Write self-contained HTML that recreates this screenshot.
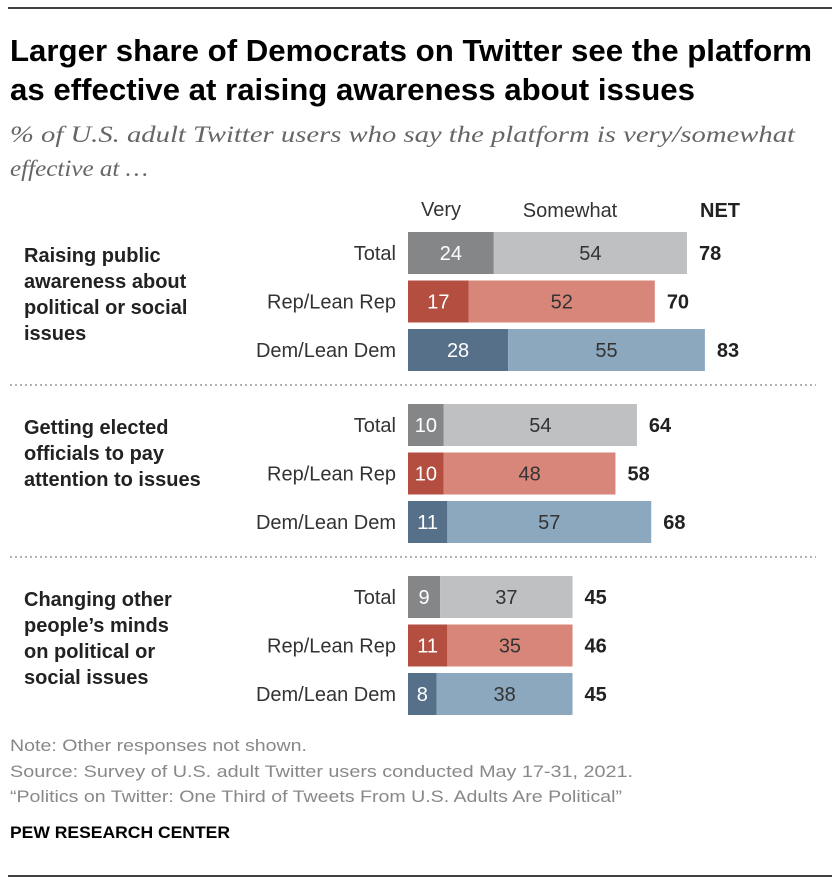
<!DOCTYPE html>
<html><head><meta charset="utf-8">
<style>
body{margin:0;background:#fff;}
svg{display:block;font-family:"Liberation Sans",sans-serif;}
</style></head><body>
<svg width="840" height="886" viewBox="0 0 840 886">
<line x1="8" y1="8" x2="832" y2="8" stroke="#000" stroke-width="1.5"/>
<text x="10" y="61" font-size="31" font-weight="bold" fill="#000" textLength="802" lengthAdjust="spacingAndGlyphs">Larger share of Democrats on Twitter see the platform</text>
<text x="10" y="100" font-size="31" font-weight="bold" fill="#000" textLength="685" lengthAdjust="spacingAndGlyphs">as effective at raising awareness about issues</text>
<text x="10" y="142" font-size="23" font-style="italic" fill="#666" font-family="Liberation Serif,serif" textLength="785" lengthAdjust="spacingAndGlyphs">% of U.S. adult Twitter users who say the platform is very/somewhat</text>
<text x="10" y="176" font-size="23" font-style="italic" fill="#666" font-family="Liberation Serif,serif" textLength="138" lengthAdjust="spacingAndGlyphs">effective at …</text>
<text x="441" y="216" font-size="20" fill="#333" text-anchor="middle">Very</text>
<text x="570" y="217" font-size="20" fill="#333" text-anchor="middle">Somewhat</text>
<text x="700" y="217" font-size="20" font-weight="bold" fill="#222">NET</text>
<g id="bars"></g>
<text x="10" y="751" font-size="17" fill="#888" textLength="297" lengthAdjust="spacingAndGlyphs">Note: Other responses not shown.</text>
<text x="10" y="777" font-size="17" fill="#888" textLength="623" lengthAdjust="spacingAndGlyphs">Source: Survey of U.S. adult Twitter users conducted May 17-31, 2021.</text>
<text x="10" y="802" font-size="17" fill="#888" textLength="612" lengthAdjust="spacingAndGlyphs">“Politics on Twitter: One Third of Tweets From U.S. Adults Are Political”</text>
<text x="10" y="838" font-size="17" font-weight="bold" fill="#000" textLength="220" lengthAdjust="spacingAndGlyphs">PEW RESEARCH CENTER</text>
<line x1="8" y1="876" x2="832" y2="876" stroke="#000" stroke-width="1.5"/>
</svg>
<script>
const groups = [["Raising public","awareness about","political or social","issues"],["Getting elected","officials to pay","attention to issues"],["Changing other","people’s minds","on political or","social issues"]];
const rowLabels = ["Total","Rep/Lean Rep","Dem/Lean Dem"];
const veryVals = [[24,17,28],[10,10,11],[9,11,8]];
const somewhatVals = [[54,52,55],[54,48,57],[37,35,38]];
const netVals = [[78,70,83],[64,58,68],[45,46,45]];

const NS="http://www.w3.org/2000/svg";
const g=document.getElementById('bars');
const x0=408, k=3.577, barH=42;
const veryC=["#858688","#b34e41","#56708a"], somC=["#bfc0c2","#d8857a","#8ba8bf"];
const xs=v=>v*k;
function mk(t,a,txt){const e=document.createElementNS(NS,t);for(const q in a)e.setAttribute(q,a[q]);if(txt!==undefined)e.textContent=txt;g.appendChild(e);return e;}
groups.forEach((lines,gi)=>{
  const gTop=232+gi*172;
  lines.forEach((ln,li)=>{
    const t=mk('text',{x:24,y:gTop+30+li*26,'font-size':20,'font-weight':'bold',fill:'#222'},ln);
    
    
  });
  if(gi>0){
    const l=mk('line',{x1:10,y1:gTop-19,x2:816,y2:gTop-19,stroke:'#999','stroke-width':1.5,'stroke-dasharray':'2,3'});
    
    
  }
  rowLabels.forEach((rl,ri)=>{
    const y=gTop+ri*48.5, cy=y+barH/2+7;
    const v=veryVals[gi][ri], s=somewhatVals[gi][ri], n=netVals[gi][ri];
    const lab=mk('text',{x:396,y:cy,'font-size':20,fill:'#333','text-anchor':'end'},rl);
    
    
    const r1=mk('rect',{x:x0,y:y,width:xs(v),height:barH,fill:veryC[ri]});
    
    
    const r2=mk('rect',{x:x0+xs(v),y:y,width:xs(s),height:barH,fill:somC[ri]});
    
    
    const t1=mk('text',{x:x0+xs(v)/2,y:cy,'font-size':20,fill:'#fff','text-anchor':'middle'},v);
    
    
    const t2=mk('text',{x:x0+xs(v)+xs(s)/2,y:cy,'font-size':20,fill:'#333','text-anchor':'middle'},s);
    
    
    const t3=mk('text',{x:x0+xs(v+s)+12,y:cy,'font-size':20,'font-weight':'bold',fill:'#222'},n);
    
    
  });
});
</script>
</body></html>
